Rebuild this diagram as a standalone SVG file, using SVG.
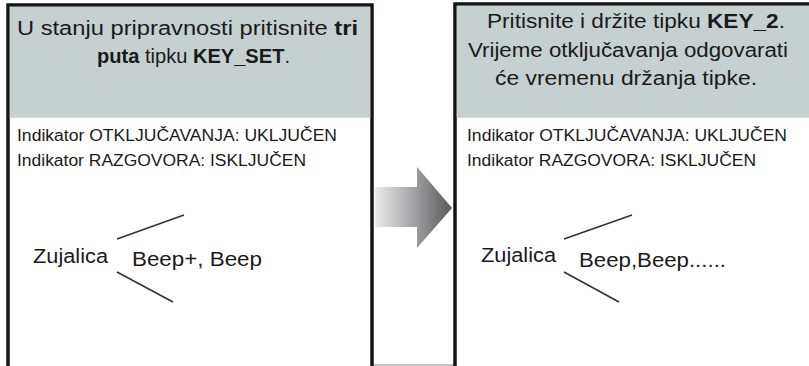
<svg xmlns="http://www.w3.org/2000/svg" width="809" height="366" viewBox="0 0 809 366">
<style>
.box{fill:#fff;stroke:#151515;stroke-width:3.5}
.hdr{fill:#c6d0d0}
.h{font-family:"Liberation Sans",Arial,sans-serif;font-size:20px;fill:#1a1a1a}
.b{font-weight:bold}
.ind{font-family:"Liberation Sans",Arial,sans-serif;font-size:16px;fill:#1a1a1a}
.z{font-family:"Liberation Sans",Arial,sans-serif;font-size:20px;fill:#1a1a1a}
.ln{stroke:#333;stroke-width:1.6;fill:none}
</style>
<defs>
<linearGradient id="ag" x1="0" y1="0" x2="1" y2="0">
<stop offset="0" stop-color="#ececec"/>
<stop offset="1" stop-color="#58585c"/>
</linearGradient>
</defs>
<line x1="8" y1="365" x2="809" y2="365" stroke="#b0b0b0" stroke-width="1.5"/>
<g id="state1">
<rect class="box" x="8" y="5" width="364" height="370"/>
<rect class="hdr" x="9.75" y="6.75" width="360.5" height="111"/>
<text class="h" x="17" y="35" textLength="341" lengthAdjust="spacingAndGlyphs">U stanju pripravnosti pritisnite  <tspan class="b">tri</tspan></text>
<text class="h" x="97" y="63" textLength="193" lengthAdjust="spacingAndGlyphs"><tspan class="b">puta</tspan> tipku <tspan class="b">KEY_SET</tspan>.</text>
<text class="ind" x="17" y="141" textLength="320" lengthAdjust="spacingAndGlyphs">Indikator OTKLJUČAVANJA: UKLJUČEN</text>
<text class="ind" x="17" y="166" textLength="289" lengthAdjust="spacingAndGlyphs">Indikator RAZGOVORA: ISKLJUČEN</text>
<text class="z" x="33" y="263" textLength="75" lengthAdjust="spacingAndGlyphs">Zujalica</text>
<text class="z" x="132" y="266" textLength="130" lengthAdjust="spacingAndGlyphs">Beep+, Beep</text>
<line class="ln" x1="117" y1="239" x2="184" y2="215"/>
<line class="ln" x1="117" y1="272" x2="173" y2="302"/>
</g>
<g id="state2">
<rect class="box" x="455" y="4" width="370" height="372"/>
<rect class="hdr" x="456.75" y="5.75" width="360" height="112"/>
<text class="h" x="487" y="28" textLength="298" lengthAdjust="spacingAndGlyphs">Pritisnite i držite tipku <tspan class="b">KEY_2</tspan>.</text>
<text class="h" x="468" y="57" textLength="320" lengthAdjust="spacingAndGlyphs">Vrijeme otključavanja odgovarati</text>
<text class="h" x="495" y="85" textLength="262" lengthAdjust="spacingAndGlyphs">će vremenu držanja tipke.</text>
<text class="ind" x="467" y="141" textLength="320" lengthAdjust="spacingAndGlyphs">Indikator OTKLJUČAVANJA: UKLJUČEN</text>
<text class="ind" x="467" y="166" textLength="289" lengthAdjust="spacingAndGlyphs">Indikator RAZGOVORA: ISKLJUČEN</text>
<text class="z" x="481" y="262" textLength="75" lengthAdjust="spacingAndGlyphs">Zujalica</text>
<text class="z" x="579" y="267" textLength="147" lengthAdjust="spacingAndGlyphs">Beep,Beep......</text>
<line class="ln" x1="564" y1="239" x2="632" y2="215"/>
<line class="ln" x1="564" y1="272" x2="619" y2="302"/>
</g>
<g id="connectors">
<polygon points="375,187 417,187 417,167 452,208 417,248 417,227 375,227" fill="url(#ag)"/>
</g>
</svg>
